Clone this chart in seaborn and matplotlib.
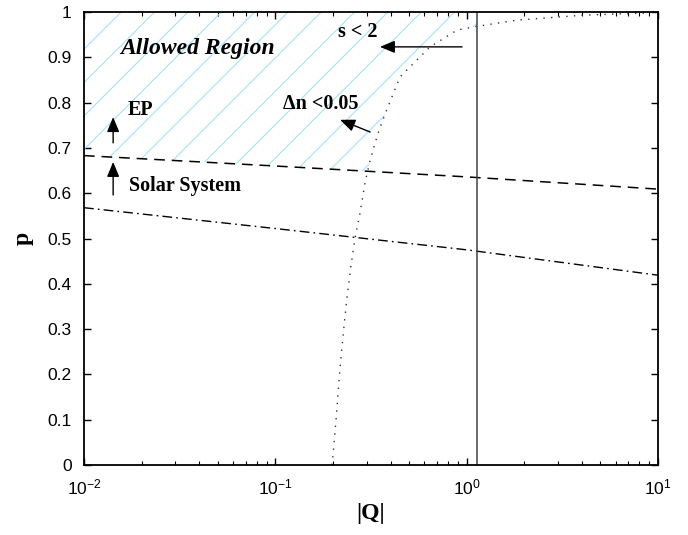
import numpy as np
import pandas as pd
import matplotlib
matplotlib.use('Agg')
import matplotlib.pyplot as plt
import seaborn as sns

# limites no plano (|Q|, p)
q_linhas = [0.01, 0.1, 1, 10]
p_solar = [0.683, 0.660, 0.636, 0.609]      # linha tracejada
p_ep = [0.568, 0.522, 0.475, 0.419]         # linha traco-ponto

# curva pontilhada (Delta n < 0.05)
q_dn = [0.197, 0.1995, 0.2075, 0.218, 0.2266, 0.236, 0.248, 0.260, 0.277, 0.294,
        0.313, 0.332, 0.353, 0.382, 0.449, 0.644, 0.891, 1.08, 1.83, 4.06, 9.1]
p_dn = [0.0, 0.015, 0.099, 0.216, 0.291, 0.364, 0.437, 0.497, 0.556, 0.622,
        0.673, 0.711, 0.746, 0.784, 0.857, 0.923, 0.960, 0.967, 0.982, 0.993, 0.998]

# linha vertical s < 2
q_s2 = 1.13

y_ticks = [0, 0.1, 0.2, 0.3, 0.4, 0.5, 0.6, 0.7, 0.8, 0.9, 1]
y_labels = ['0', '0.1', '0.2', '0.3', '0.4', '0.5', '0.6', '0.7', '0.8', '0.9', '1']

linhas = pd.DataFrame({'Q': q_linhas, 'solar': p_solar, 'ep': p_ep})
dn = pd.DataFrame({'Q': q_dn, 'p': p_dn})

sns.set_style('ticks')
plt.rcParams['font.family'] = ['Liberation Sans', 'DejaVu Sans']
plt.rcParams['text.color'] = 'black'
plt.rcParams['axes.labelcolor'] = 'black'
plt.rcParams['hatch.color'] = '#a4e2f6'
plt.rcParams['hatch.linewidth'] = 0.8

fig = plt.figure(figsize=(6.88, 5.35), dpi=100)
ax = fig.add_axes([0.1221, 0.1308, 0.8343, 0.8468])
ax.set_xscale('log')

# regiao permitida (hachurada)
qq = np.logspace(-2, np.log10(q_s2), 600)
lq = np.log10(qq)
baixo = np.maximum(np.interp(lq, np.log10(q_linhas), p_solar),
                   np.interp(lq, np.log10(q_dn), p_dn, left=0))
ax.fill_between(qq, baixo, 1, facecolor='none', edgecolor='#a4e2f6', linewidth=0, hatch='/')

sns.lineplot(data=linhas, x='Q', y='solar', ax=ax, color='black', lw=1.1, linestyle=(0, (7, 4.5)))
sns.lineplot(data=linhas, x='Q', y='ep', ax=ax, color='black', lw=1.0, linestyle=(0, (7, 3, 1.2, 3)))
sns.lineplot(data=dn, x='Q', y='p', ax=ax, color='#333333', lw=1.0, linestyle=(0, (1, 4.5)), sort=False)
ax.axvline(q_s2, color='#444444', lw=1.1)

ax.set_xlim(0.01, 10)
ax.set_ylim(0, 1)
ax.set_yticks(y_ticks)
ax.set_yticklabels(y_labels)

ax.tick_params(which='both', direction='in', top=True, right=True, labelsize=12.5, colors='black')
ax.tick_params(which='major', length=5, width=1, pad=9)
ax.tick_params(which='minor', length=3, width=0.8)
for s in ax.spines.values():
    s.set_linewidth(1.3)
    s.set_color('black')

serif = ['Liberation Serif', 'DejaVu Serif']
ax.set_xlabel('|Q|', fontsize=17, fontweight='bold', family=serif, labelpad=4, color='black')
ax.set_ylabel('p', fontsize=17, fontweight='bold', family=serif, labelpad=10, color='black')

ax.text(0.0394, 0.92, 'Allowed Region', fontsize=17, fontweight='bold', fontstyle='italic',
        family=serif, ha='center', va='center', color='black')
ax.text(0.0170, 0.784, 'EP', fontsize=14.5, fontweight='bold', family=serif, va='center', color='black')
ax.text(0.0172, 0.616, 'Solar System', fontsize=14.5, fontweight='bold', family=serif, va='center', color='black')
ax.text(0.2128, 0.956, 's < 2', fontsize=14.5, fontweight='bold', family=serif, va='center', color='black')
ax.text(0.1096, 0.797, '\u0394n <0.05', fontsize=14.5, fontweight='bold', family=serif, va='center', color='black')

seta = dict(arrowstyle='-|>,head_length=0.6,head_width=0.25', color='black', lw=1,
            mutation_scale=15, shrinkA=0, shrinkB=0)
ax.annotate('', xy=(0.0142, 0.768), xytext=(0.0142, 0.711), arrowprops=seta)
ax.annotate('', xy=(0.0142, 0.669), xytext=(0.0142, 0.596), arrowprops=seta)
ax.annotate('', xy=(0.352, 0.923), xytext=(0.946, 0.923), arrowprops=seta)
ax.annotate('', xy=(0.218, 0.762), xytext=(0.313, 0.735), arrowprops=seta)

fig.savefig('out.png', dpi=100)
